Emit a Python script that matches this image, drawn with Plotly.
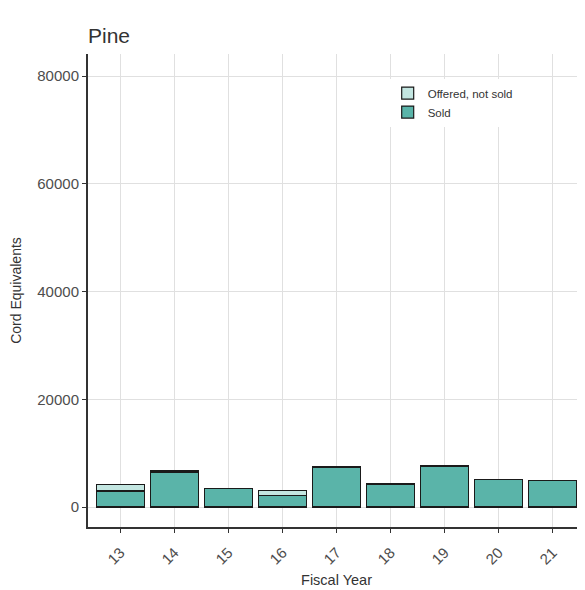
import plotly.graph_objects as go

years = ["13", "14", "15", "16", "17", "18", "19", "20", "21"]
sold = [3000, 6500, 3400, 2200, 7450, 4300, 7500, 5100, 4900]
offered_not_sold = [1250, 250, 60, 950, 150, 80, 200, 50, 0]

# page body has an 8px margin; size the figure so the plot lands where the reference has it
W, H, OFF = 577, 582, 8

fig = go.Figure()
fig.add_trace(go.Bar(x=years, y=sold, name="Sold", width=0.9,
                     marker=dict(color="#5ab4a9", line=dict(color="#1a1a1a", width=1.2))))
fig.add_trace(go.Bar(x=years, y=offered_not_sold, name="Offered, not sold", width=0.9,
                     marker=dict(color="#c3e6e1", line=dict(color="#1a1a1a", width=1.2))))

fig.update_layout(
    barmode="stack",
    width=W, height=H,
    margin=dict(l=88 - OFF, r=0, t=54 - OFF, b=H - (527 - OFF), autoexpand=False),
    paper_bgcolor="white", plot_bgcolor="white",
    font=dict(family="Liberation Sans, Arial, sans-serif", color="#333333"),
    title=dict(text="Pine", x=(88 - OFF) / W, xref="container", xanchor="left",
               y=1 - (36 - OFF) / H, yref="container", yanchor="middle",
               font=dict(size=21, color="#333333")),
    legend=dict(traceorder="reversed", x=0.603, y=0.948, xanchor="left", yanchor="top",
                bgcolor="white", font=dict(size=11.5, color="#333333"),
                itemwidth=30, tracegroupgap=0),
    bargap=0.1,
)
fig.update_xaxes(
    type="category", range=[-0.6, 8.6], automargin=False,
    showline=True, linecolor="#333333", linewidth=2,
    showgrid=True, gridcolor="#e0e0e0", gridwidth=1,
    ticks="outside", ticklen=4, tickcolor="#333333",
    tickangle=-45, tickfont=dict(size=15, color="#4d4d4d"), ticklabelstandoff=5,
    title=dict(text="Fiscal Year", font=dict(size=14.5, color="#333333"), standoff=8),
)
fig.update_yaxes(
    range=[-3700, 84100], automargin=False,
    tickvals=[0, 20000, 40000, 60000, 80000],
    ticktext=["0", "20000", "40000", "60000", "80000"],
    showline=True, linecolor="#333333", linewidth=2,
    showgrid=True, gridcolor="#e0e0e0", gridwidth=1, zeroline=False,
    ticks="outside", ticklen=4, tickcolor="#333333",
    tickfont=dict(size=15, color="#4d4d4d"),
    title=dict(text="Cord Equivalents", font=dict(size=14, color="#333333"), standoff=20),
)

fig.write_html("out.html")
